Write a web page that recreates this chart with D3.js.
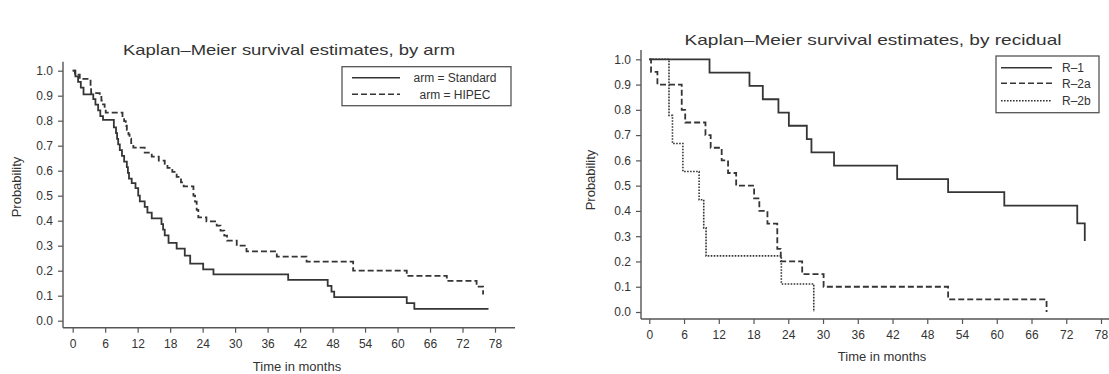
<!DOCTYPE html>
<html>
<head>
<meta charset="utf-8">
<script src="https://cdn.jsdelivr.net/npm/d3@7"></script>
<style>
  html, body { margin: 0; padding: 0; background: #fff; }
  svg { display: block; }
  text { font-family: "Liberation Sans", Arial, Helvetica, sans-serif; fill: #333; }
</style>
</head>
<body>
<svg id="chart" width="1109" height="374"></svg>
<script>
// Shared axis ticks (months and survival probability)
const monthTicks = [0, 6, 12, 18, 24, 30, 36, 42, 48, 54, 60, 66, 72, 78];
const probTicks = [0, 0.1, 0.2, 0.3, 0.4, 0.5, 0.6, 0.7, 0.8, 0.9, 1.0];

// Survival by treatment arm: event times (months) and survival estimate after each step
const standardTime = [0, 0.5, 1.0, 1.5, 2.0, 3.8, 4.2, 4.7, 5.1, 5.6, 7.6, 8.0, 8.2, 8.4, 8.7, 9.1, 9.5, 10.0, 10.2, 10.4, 10.9, 11.6, 12.1, 12.4, 13.3, 13.8, 14.6, 16.4, 16.7, 17.0, 17.7, 19.2, 20.7, 21.7, 24.1, 26.0, 39.8, 47.1, 47.8, 48.3, 61.7, 63.1, 76.8];
const standardSurv = [1.0, 0.977, 0.955, 0.932, 0.905, 0.886, 0.864, 0.841, 0.818, 0.803, 0.773, 0.750, 0.727, 0.705, 0.682, 0.659, 0.636, 0.614, 0.591, 0.568, 0.550, 0.530, 0.500, 0.477, 0.455, 0.432, 0.409, 0.386, 0.364, 0.341, 0.311, 0.288, 0.260, 0.228, 0.205, 0.185, 0.163, 0.139, 0.116, 0.094, 0.070, 0.047, 0.047];

const hipecTime = [0, 0.4, 1.3, 3.3, 3.4, 5.0, 5.3, 5.6, 5.9, 6.1, 9.2, 9.5, 9.8, 10.0, 10.3, 10.5, 10.8, 11.2, 13.3, 14.6, 15.9, 17.0, 17.5, 18.4, 19.2, 20.0, 20.5, 22.3, 22.6, 22.9, 23.2, 24.7, 26.6, 27.3, 28.0, 28.5, 30.3, 32.1, 37.7, 43.2, 51.8, 61.7, 69.1, 74.6, 75.8];
const hipecSurv = [1.0, 0.984, 0.967, 0.934, 0.910, 0.895, 0.880, 0.865, 0.850, 0.832, 0.815, 0.798, 0.780, 0.763, 0.745, 0.728, 0.710, 0.692, 0.672, 0.656, 0.640, 0.627, 0.611, 0.595, 0.575, 0.553, 0.537, 0.500, 0.476, 0.443, 0.413, 0.397, 0.380, 0.360, 0.340, 0.320, 0.300, 0.277, 0.256, 0.236, 0.200, 0.179, 0.159, 0.136, 0.105];

// Survival by residual disease group
const r1Time = [0, 10.4, 17.3, 19.6, 22.3, 24.1, 27.2, 28.0, 31.9, 42.8, 51.6, 61.3, 73.9, 75.2];
const r1Surv = [1.0, 0.947, 0.895, 0.842, 0.789, 0.737, 0.684, 0.632, 0.579, 0.526, 0.474, 0.421, 0.351, 0.281];

const r2aTime = [0, 0.3, 1.4, 5.6, 6.2, 9.7, 10.6, 12.5, 13.6, 15.0, 18.1, 19.0, 20.4, 22.1, 22.7, 26.4, 30.1, 51.6, 68.6];
const r2aSurv = [1.0, 0.95, 0.90, 0.80, 0.75, 0.70, 0.65, 0.60, 0.55, 0.50, 0.45, 0.40, 0.35, 0.25, 0.20, 0.15, 0.10, 0.05, 0.0];

const r2bTime = [0, 3.4, 4.0, 5.8, 8.6, 9.4, 9.8, 22.8, 28.4];
const r2bSurv = [1.0, 0.778, 0.667, 0.556, 0.444, 0.333, 0.222, 0.111, 0.0];

const armLabels = ["arm = Standard", "arm = HIPEC"];
const residualLabels = ["R\u20131", "R\u20132a", "R\u20132b"];

const svg = d3.select("#chart");

const lineColor = "#353535";
const dashStyles = { solid: null, dashed: "6,3", dotted: "1.6,1.4" };

function drawPanel(cfg) {
  const g = svg.append("g");
  const x = d3.scaleLinear().domain([0, 78]).range([cfg.x0, cfg.x1]);
  const y = d3.scaleLinear().domain([0, 1]).range([cfg.y0, cfg.y1]);

  // axis lines
  g.append("line")
    .attr("x1", cfg.axisX).attr("x2", cfg.axisX)
    .attr("y1", cfg.axisTop).attr("y2", cfg.axisY)
    .attr("stroke", "#555").attr("stroke-width", 1.4);
  g.append("line")
    .attr("x1", cfg.axisX).attr("x2", cfg.axisRight)
    .attr("y1", cfg.axisY).attr("y2", cfg.axisY)
    .attr("stroke", "#555").attr("stroke-width", 1.4);

  const yAxis = d3.axisLeft(y).tickValues(probTicks).tickFormat(d3.format(".1f"))
    .tickSize(5).tickPadding(5);
  const ya = g.append("g").attr("transform", `translate(${cfg.axisX},0)`).call(yAxis);
  ya.select(".domain").remove();
  ya.selectAll("line").attr("stroke", "#555").attr("stroke-width", 1.2);
  ya.selectAll("text").attr("font-size", 12).attr("fill", "#333")
    .style("font-family", "Liberation Sans, Arial, sans-serif");

  const xAxis = d3.axisBottom(x).tickValues(monthTicks).tickFormat(d3.format("d"))
    .tickSize(5).tickPadding(cfg.xPad);
  const xa = g.append("g").attr("transform", `translate(0,${cfg.axisY})`).call(xAxis);
  xa.select(".domain").remove();
  xa.selectAll("line").attr("stroke", "#555").attr("stroke-width", 1.2);
  xa.selectAll("text").attr("font-size", 12).attr("fill", "#333")
    .style("font-family", "Liberation Sans, Arial, sans-serif");

  // titles and axis labels
  g.append("text").attr("x", cfg.titleX).attr("y", cfg.titleY)
    .attr("text-anchor", "middle").attr("font-size", 15)
    .attr("textLength", cfg.titleLen).attr("lengthAdjust", "spacingAndGlyphs")
    .text(cfg.title);
  g.append("text")
    .attr("transform", `translate(${cfg.yLabX},${cfg.yLabY}) rotate(-90)`)
    .attr("text-anchor", "middle").attr("font-size", 13).text("Probability");
  g.append("text").attr("x", cfg.xLabX).attr("y", cfg.xLabY)
    .attr("text-anchor", "middle").attr("font-size", 13).text("Time in months");

  // step curves
  const line = d3.line().curve(d3.curveStepAfter)
    .x(d => x(d[0])).y(d => y(d[1]));
  cfg.series.forEach(s => {
    const pts = s.time.map((t, i) => [t, s.surv[i]]);
    g.append("path").datum(pts)
      .attr("d", line)
      .attr("fill", "none")
      .attr("stroke", lineColor)
      .attr("stroke-width", s.style === "dotted" ? 1.6 : 1.8)
      .attr("stroke-dasharray", dashStyles[s.style]);
  });

  // legend
  const L = cfg.legend;
  g.append("rect").attr("x", L.x).attr("y", L.y).attr("width", L.w).attr("height", L.h)
    .attr("fill", "#fff").attr("stroke", "#555").attr("stroke-width", 1.3);
  cfg.series.forEach((s, i) => {
    const ly = L.rowY[i];
    g.append("line").attr("x1", L.lx1).attr("x2", L.lx2).attr("y1", ly).attr("y2", ly)
      .attr("stroke", lineColor).attr("stroke-width", s.style === "dotted" ? 1.4 : 1.6)
      .attr("stroke-dasharray", dashStyles[s.style]);
    g.append("text").attr("x", L.tx).attr("y", ly + 4.5)
      .attr("text-anchor", L.anchor).attr("font-size", 12).text(s.label);
  });
}

drawPanel({
  x0: 72.7, x1: 495, y0: 320.7, y1: 70.7,
  axisX: 63, axisY: 327.7, axisTop: 61.7, axisRight: 515, xPad: 7,
  title: "Kaplan\u2013Meier survival estimates, by arm",
  titleX: 289, titleY: 55, titleLen: 332,
  yLabX: 21, yLabY: 187, xLabX: 297, xLabY: 371,
  series: [
    { time: standardTime, surv: standardSurv, style: "solid", label: armLabels[0] },
    { time: hipecTime, surv: hipecSurv, style: "dashed", label: armLabels[1] }
  ],
  legend: { x: 342, y: 66.7, w: 169, h: 39, lx1: 352, lx2: 400, rowY: [77.7, 94.3], tx: 455, anchor: "middle" }
});

drawPanel({
  x0: 649.3, x1: 1101, y0: 312, y1: 59.3,
  axisX: 641, axisY: 319, axisTop: 50, axisRight: 1109, xPad: 6,
  title: "Kaplan\u2013Meier survival estimates, by recidual",
  titleX: 873, titleY: 45, titleLen: 377,
  yLabX: 595, yLabY: 180, xLabX: 882, xLabY: 361,
  series: [
    { time: r1Time, surv: r1Surv, style: "solid", label: residualLabels[0] },
    { time: r2aTime, surv: r2aSurv, style: "dashed", label: residualLabels[1] },
    { time: r2bTime, surv: r2bSurv, style: "dotted", label: residualLabels[2] }
  ],
  legend: { x: 996, y: 56, w: 103, h: 56.7, lx1: 1001, lx2: 1052, rowY: [67.7, 83.3, 100.7], tx: 1062, anchor: "start" }
});
</script>
</body>
</html>
